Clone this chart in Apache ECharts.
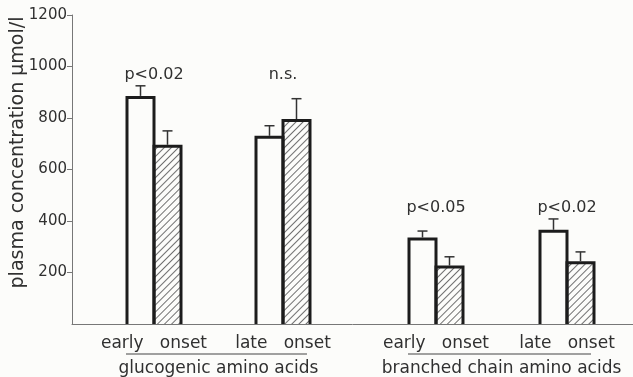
<!DOCTYPE html>
<html><head><meta charset="utf-8">
<script src="https://cdn.jsdelivr.net/npm/echarts@6/dist/echarts.min.js"></script>
<style>html,body{margin:0;padding:0;background:#fcfcfa}#c{width:633px;height:377px}</style>
</head><body><div id="c"></div>
<script>
// ---- data ----
const onsetCategories = ['early onset', 'late onset'];
const classNames = ['glucogenic amino acids', 'branched chain amino acids'];
const yTickValues = [0, 200, 400, 600, 800, 1000, 1200];
const glucoOpen = [880, 725];
const glucoOpenErr = [45, 45];
const glucoHatched = [690, 790];
const glucoHatchedErr = [60, 85];
const branchedOpen = [330, 360];
const branchedOpenErr = [31, 48];
const branchedHatched = [221, 238];
const branchedHatchedErr = [40, 42];
const glucoP = ['p<0.02', 'n.s.'];
const branchedP = ['p<0.05', 'p<0.02'];

// ---- styling ----
const FONT = '"DejaVu Sans"';
const INK = '#303030';
const BG = '#fcfcfa';
const BAR_W = 27;
const yMin = yTickValues[0], yMax = yTickValues[yTickValues.length - 1];
const yStep = yTickValues[1] - yTickValues[0];

const panels = [
  {open: glucoOpen, openErr: glucoOpenErr, hatched: glucoHatched, hatchedErr: glucoHatchedErr, p: glucoP, name: classNames[0]},
  {open: branchedOpen, openErr: branchedOpenErr, hatched: branchedHatched, hatchedErr: branchedHatchedErr, p: branchedP, name: classNames[1]}
];

const chart = echarts.init(document.getElementById('c'), null, {renderer: 'canvas'});

const grids = [
  {left: 72, right: 0, top: 15, bottom: 53, outerBoundsMode: 'none'},
  {left: 89.5, width: 258, top: 15, bottom: 53, outerBoundsMode: 'none'},
  {left: 370.5, width: 262, top: 15, bottom: 53, outerBoundsMode: 'none'}
];

const xAxes = [
  {gridIndex: 0, type: 'value', min: 0, max: 1, axisLabel: {show: false}, axisTick: {show: false},
   splitLine: {show: false}, axisLine: {show: true, lineStyle: {color: '#777', width: 1}}}
];
const yAxes = [
  {gridIndex: 0, type: 'value', min: yMin, max: yMax, interval: yStep,
   name: 'plasma concentration μmol/l', nameLocation: 'middle', nameRotate: 90, nameGap: 44,
   nameMoveOverlap: false,
   nameTextStyle: {fontFamily: FONT, fontSize: 19, color: INK, padding: [0, 0, 0, 34]},
   axisLine: {show: true, lineStyle: {color: '#777', width: 1}},
   axisTick: {show: true, length: 5, lineStyle: {color: '#777'}, customValues: yTickValues.slice(1)},
   splitLine: {show: false},
   axisLabel: {fontFamily: FONT, fontSize: 15, color: INK, margin: 5,
     formatter: v => v === 0 ? '' : String(v)}}
];

const series = [];
panels.forEach((pn, i) => {
  const gi = i + 1;
  xAxes.push({gridIndex: gi, type: 'category', data: onsetCategories,
    axisLine: {show: false}, axisTick: {show: false},
    axisLabel: {fontFamily: FONT, fontSize: 17, color: INK, margin: 11, interval: 0, hideOverlap: false,
      formatter: s => s.replace(' ', '\u00a0\u00a0\u00a0')},
    name: pn.name, nameLocation: 'middle', nameGap: 36, nameMoveOverlap: false,
    nameTextStyle: {fontFamily: FONT, fontSize: 17, color: INK}});
  yAxes.push({gridIndex: gi, type: 'value', min: yMin, max: yMax, show: false});

  // fills (open and hatched)
  series.push({type: 'bar', xAxisIndex: gi, yAxisIndex: gi, data: pn.open, barWidth: BAR_W, barGap: '0%',
    itemStyle: {color: BG}, silent: true});
  series.push({type: 'bar', xAxisIndex: gi, yAxisIndex: gi, data: pn.hatched, barWidth: BAR_W, barGap: '0%',
    itemStyle: {color: BG,
      decal: {symbol: 'rect', symbolSize: 1, color: '#707070', dashArrayX: [1, 0], dashArrayY: [1, 4], rotation: -Math.PI / 4}},
    silent: true});

  // bar outlines (open at the bottom, like the drawing) and error bars
  const barData = [];
  pn.open.forEach((v, c) => barData.push([c, v, pn.openErr[c], -1]));
  pn.hatched.forEach((v, c) => barData.push([c, v, pn.hatchedErr[c], 1]));
  series.push({type: 'custom', xAxisIndex: gi, yAxisIndex: gi, data: barData, z: 5, silent: true,
    renderItem: (params, api) => {
      const c = api.value(0), mean = api.value(1), err = api.value(2), side = api.value(3);
      const base = api.coord([c, 0]);
      const tp = api.coord([c, mean]);
      const et = api.coord([c, mean + err]);
      const xa = base[0] + (side < 0 ? -BAR_W : 0);
      const xb = xa + BAR_W;
      const xm = base[0] + side * BAR_W / 2;
      const st = {stroke: '#333', lineWidth: 1.5};
      return {type: 'group', children: [
        {type: 'polyline', shape: {points: [[xa, base[1]], [xa, tp[1]], [xb, tp[1]], [xb, base[1]]]},
         style: {stroke: '#1c1c1c', lineWidth: 3, fill: null, lineJoin: 'miter'}},
        {type: 'line', shape: {x1: xm, y1: tp[1] - 1.5, x2: xm, y2: et[1]}, style: st},
        {type: 'line', shape: {x1: xm - 5, y1: et[1], x2: xm + 5, y2: et[1]}, style: st}
      ]};
    }});

  const maxTop = Math.max(...pn.open.map((v, c) => v + pn.openErr[c]), ...pn.hatched.map((v, c) => v + pn.hatchedErr[c]));
  series.push({type: 'custom', xAxisIndex: gi, yAxisIndex: gi, data: pn.p.map((t, c) => [c, maxTop]), z: 5, silent: true,
    renderItem: (params, api) => {
      const pt = api.coord([api.value(0), api.value(1)]);
      return {type: 'text', x: pt[0], y: pt[1] - 3,
        style: {text: pn.p[params.dataIndex], fontFamily: FONT, fontSize: 16, fill: INK, align: 'center', verticalAlign: 'bottom'}};
    }});
});

chart.setOption({
  backgroundColor: BG,
  animation: false,
  grid: grids,
  xAxis: xAxes,
  yAxis: yAxes,
  series: series
});

// underline under the onset labels of each class
const baseY = chart.convertToPixel({yAxisIndex: 0}, 0);
const graphics = panels.map((pn, i) => {
  const x0 = chart.convertToPixel({xAxisIndex: i + 1}, onsetCategories[0]) - 28;
  const x1 = chart.convertToPixel({xAxisIndex: i + 1}, onsetCategories[onsetCategories.length - 1]) + 24;
  return {type: 'line', shape: {x1: x0, y1: baseY + 30, x2: x1, y2: baseY + 30}, style: {stroke: '#444', lineWidth: 1.2}, silent: true};
});
chart.setOption({graphic: graphics});
</script>
</body></html>
